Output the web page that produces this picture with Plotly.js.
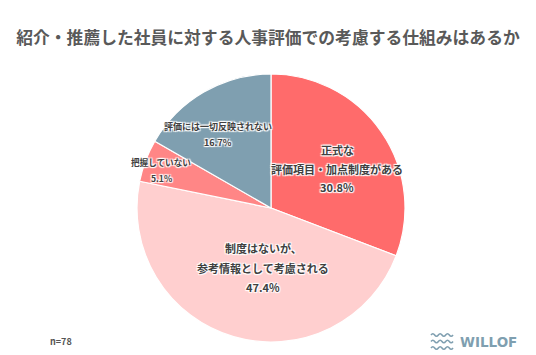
<!DOCTYPE html>
<html>
<head>
<meta charset="utf-8">
<script src="https://cdn.plot.ly/plotly-3.0.1.min.js"></script>
<style>
html,body{margin:0;padding:0;background:#fff;}
#chart{width:536px;height:355px;}
</style>
</head>
<body>
<div id="chart"></div>
<script>
// ---- data ----
const categories = [
  "正式な<br>評価項目・加点制度がある",
  "制度はないが、<br>参考情報として考慮される",
  "把握していない",
  "評価には一切反映されない"
];
const values = [30.8, 47.4, 5.1, 16.7];
const chartTitle = "紹介・推薦した社員に対する人事評価での考慮する仕組みはあるか";
const sampleNote = "n=78";
const brand = "WILLOF";

// ---- styles / layout ----
const W = 536, H = 355;
const colors = ["#FF6B6B", "#FFCFCF", "#FF8686", "#7F9FB0"];
const cx = 271, cy = 208, R = 134;
// label anchor (pixel) centres, font size and line spacing for each slice
const labelPos = [
  {x: 337, y: 150, size: 11, gap: 18.5},
  {x: 263, y: 248, size: 11, gap: 19.5},
  {x: 161, y: 162, size: 8.6, gap: 16},
  {x: 218, y: 127, size: 9, gap: 15.5}
];
const FONT = "'Noto Sans CJK JP', 'Noto Sans', sans-serif";
const halo = "1px 1px 1px #fff, -1px -1px 1px #fff, 1px -1px 1px #fff, -1px 1px 1px #fff, 0 0 2px #fff";

const px = x => x / W;
const py = y => 1 - y / H;

const annotations = [];
categories.forEach((c, i) => {
  const lines = c.split("<br>").concat([values[i].toFixed(1) + "%"]);
  const p = labelPos[i];
  lines.forEach((t, k) => {
    annotations.push({
      xref: "paper", yref: "paper",
      x: px(p.x), y: py(p.y + k * p.gap),
      xanchor: "center", yanchor: "middle",
      showarrow: false, text: t,
      font: {family: FONT, size: p.size, color: "#404040", weight: 700, shadow: halo}
    });
  });
});
annotations.push({
  xref: "paper", yref: "paper", x: px(61), y: py(341),
  xanchor: "center", yanchor: "middle", showarrow: false, text: sampleNote,
  font: {family: FONT, size: 9, color: "#555555", weight: 700}
});
annotations.push({
  xref: "paper", yref: "paper", x: px(458), y: py(342),
  xanchor: "left", yanchor: "middle", showarrow: false, text: brand,
  font: {family: "'DejaVu Sans', sans-serif", size: 13.5, color: "#7F9FB0", weight: 700}
});

// wave logo
function wavePath(x0, y0, w, amp, n) {
  const step = w / n;
  let d = "M" + px(x0) + "," + py(y0);
  for (let k = 0; k < n; k++) {
    const xm = x0 + step * (k + 0.5), xe = x0 + step * (k + 1);
    const ym = y0 + (k % 2 === 0 ? -amp : amp) * 2;
    d += " Q" + px(xm) + "," + py(ym) + " " + px(xe) + "," + py(y0);
  }
  return d;
}
const shapes = [0, 1, 2].map(k => ({
  type: "path", xref: "paper", yref: "paper",
  path: wavePath(431, 335 + k * 6.5, 22, 1.2, 6),
  line: {color: "#7F9FB0", width: 1.6}
}));

const trace = {
  type: "pie",
  labels: categories,
  values: values,
  sort: false,
  direction: "clockwise",
  rotation: 0,
  textinfo: "none",
  hoverinfo: "label+percent",
  marker: {colors: colors, line: {color: "#ffffff", width: 1.2}},
  domain: {x: [(cx - R) / W, (cx + R) / W], y: [1 - (cy + R) / H, 1 - (cy - R) / H]},
  showlegend: false
};

const layout = {
  width: W, height: H,
  margin: {l: 0, r: 0, t: 0, b: 0},
  paper_bgcolor: "#ffffff",
  title: {
    text: chartTitle,
    x: 0.5, xanchor: "center", y: py(38), yanchor: "middle",
    font: {family: FONT, size: 16.8, color: "#595959", weight: 700}
  },
  annotations: annotations,
  shapes: shapes,
  showlegend: false
};

Plotly.newPlot("chart", [trace], layout, {displayModeBar: false, staticPlot: true});
</script>
</body>
</html>
